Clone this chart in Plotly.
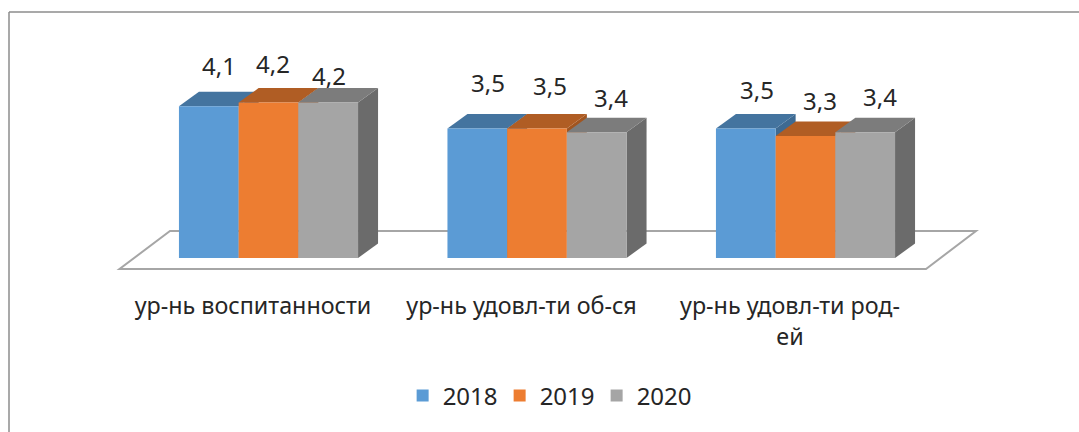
import plotly.graph_objects as go

categories = ["ур-нь воспитанности", "ур-нь удовл-ти об-ся", "ур-нь удовл-ти род-<br>ей"]
years = ["2018", "2019", "2020"]
v2018 = [4.1, 3.5, 3.5]
v2019 = [4.2, 3.5, 3.3]
v2020 = [4.2, 3.4, 3.4]
labels2018 = ["4,1", "3,5", "3,5"]
labels2019 = ["4,2", "3,5", "3,3"]
labels2020 = ["4,2", "3,4", "3,4"]

series = [v2018, v2019, v2020]
series_labels = [labels2018, labels2019, labels2020]
front = ["#5B9BD5", "#ED7D31", "#A5A5A5"]
top = ["#44749F", "#B05D24", "#7C7C7C"]
side = ["#3E6A92", "#A15520", "#6B6B6B"]

W, H = 1079, 432
BOTTOM = 290
X0, XU = 268.5, 268.5   # px of category 0, px per category
Y0, YU = 258.0, 37.0    # px of value 0, px per unit
BW = 59.7 / XU
DX, DY = 20 / XU, 14.5 / YU
xr = [-X0 / XU, (W - X0) / XU]
yr = [(Y0 - BOTTOM) / YU, Y0 / YU]
dx_px = lambda p: (p - X0) / XU
dy_px = lambda p: (Y0 - p) / YU
FONT = "Noto Sans"
FS_CAT = 23.3
FS_NUM = 24
TXT = "#262626"

# hand-placed data label offsets in pixels (series, category)
lab_dx = [[10, 11, 11], [4, 13, 14], [1, 14, 15]]
lab_dy = [[41, 46, 39], [39, 43, 35], [27, 35, 36]]

fig = go.Figure()

# depth faces (base subplot, behind the bar fronts)
for s, vals in enumerate(series):
    for c, v in enumerate(vals):
        left = c + (s - 1.5) * BW
        right = left + BW
        fig.add_trace(go.Scatter(
            x=[right, right + DX, right + DX, right, right],
            y=[0, DY, v + DY, v, 0],
            mode="lines", fill="toself", fillcolor=side[s], line=dict(width=0),
            showlegend=False, hoverinfo="skip"))
        fig.add_trace(go.Scatter(
            x=[left, left + DX, right + DX, right, left],
            y=[v, v + DY, v + DY, v, v],
            mode="lines", fill="toself", fillcolor=top[s], line=dict(width=0),
            showlegend=False, hoverinfo="skip"))

# bar fronts (overlay subplot, above the depth faces)
for s, vals in enumerate(series):
    fig.add_trace(go.Bar(x=[0, 1, 2], y=vals, name=years[s], marker=dict(color=front[s], line=dict(width=0)),
                         xaxis="x2", yaxis="y2"))

annotations = []
for s, vals in enumerate(series):
    for c, v in enumerate(vals):
        annotations.append(dict(
            x=c + (s - 1) * BW, y=v, xref="x", yref="y", text=series_labels[s][c],
            showarrow=False, xshift=lab_dx[s][c], yshift=lab_dy[s][c],
            font=dict(family=FONT, size=FS_NUM, color=TXT)))

px_paper_y = lambda p: (BOTTOM - p) / BOTTOM
floor = "M {} {} L {} {} L {} {} L {} {} Z".format(
    dx_px(119.5), dy_px(269), dx_px(926), dy_px(269), dx_px(976), dy_px(231), dx_px(170), dy_px(231))
shapes = [
    dict(type="path", path=floor, xref="x", yref="y", layer="below",
         line=dict(color="#A6A6A6", width=2), fillcolor="white"),
    dict(type="line", xref="paper", yref="paper", x0=9 / W, x1=1, y0=px_paper_y(12), y1=px_paper_y(12),
         line=dict(color="#8C8C8C", width=1.5)),
    dict(type="line", xref="paper", yref="paper", x0=9 / W, x1=9 / W, y0=px_paper_y(12), y1=px_paper_y(H),
         line=dict(color="#8C8C8C", width=1.5)),
]

fig.update_layout(
    width=W, height=H, margin=dict(l=0, r=0, t=0, b=H - BOTTOM),
    paper_bgcolor="white", plot_bgcolor="rgba(0,0,0,0)",
    barmode="group", bargap=1 - 3 * BW, bargroupgap=0,
    font=dict(family=FONT, size=FS_CAT, color=TXT),
    showlegend=True,
    legend=dict(orientation="h", x=0.508, xanchor="center", y=px_paper_y(396), yanchor="middle",
                font=dict(family=FONT, size=FS_NUM, color=TXT), traceorder="normal",
                entrywidth=52, entrywidthmode="pixels"),
    xaxis=dict(range=xr, tickmode="array", tickvals=[c - 15.5 / XU for c in range(3)], ticktext=categories,
               showgrid=False, zeroline=False, showline=False, ticks="", fixedrange=True, tickangle=0,
               tickfont=dict(family=FONT, size=FS_CAT, color=TXT)),
    yaxis=dict(range=yr, visible=False, fixedrange=True),
    xaxis2=dict(range=xr, overlaying="x", visible=False, fixedrange=True),
    yaxis2=dict(range=yr, overlaying="y", visible=False, fixedrange=True),
    annotations=annotations, shapes=shapes,
)
fig.write_html("out.html", config=dict(displayModeBar=False),
               post_script="document.body.style.margin='0';")
